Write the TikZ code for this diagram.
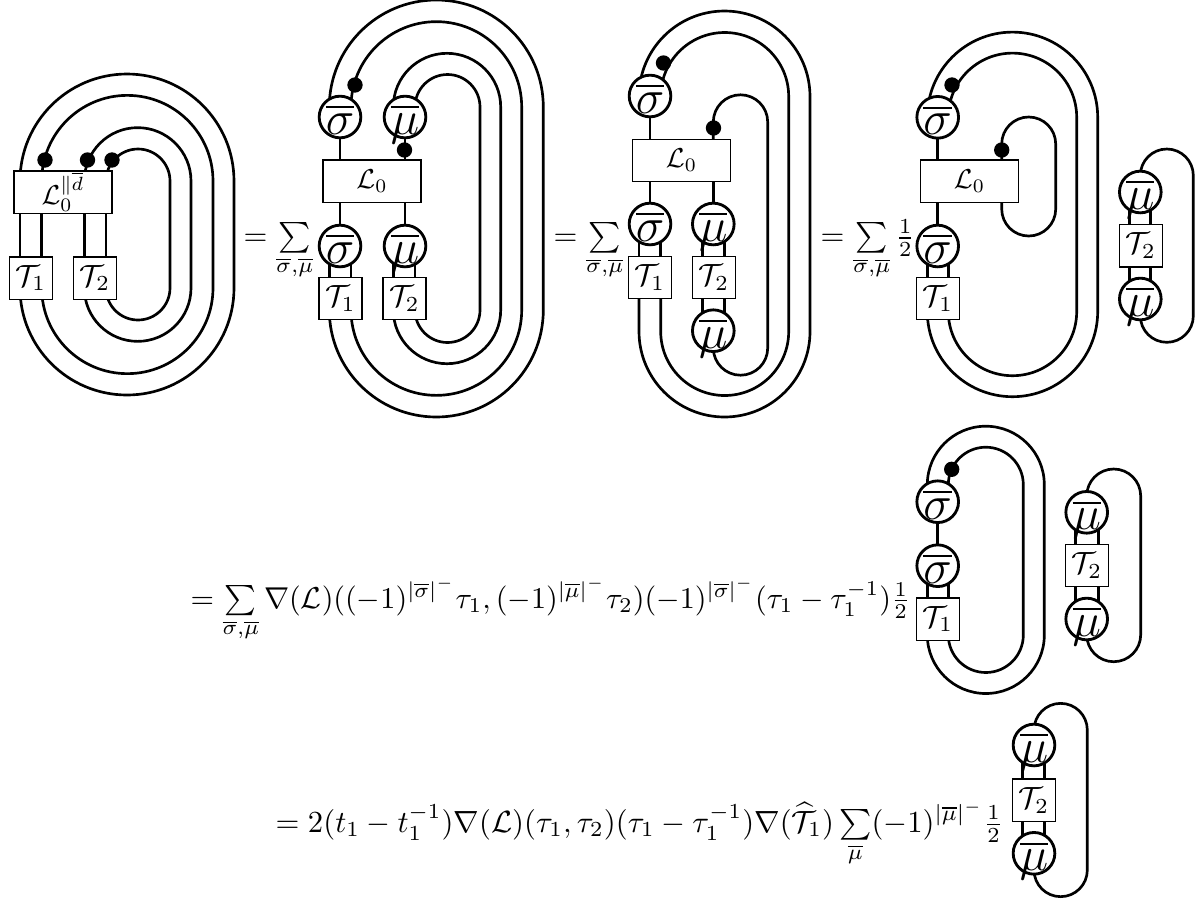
\documentclass[tikz,border=0pt]{standalone}
\usepackage{amsmath}
\usepackage{graphicx}
\usetikzlibrary{backgrounds}
\pgfdeclarelayer{strands}
\pgfsetlayers{background,strands,main}
\tikzset{
  strand/.style={line width=0.8pt,line cap=round},
  boxnode/.style={draw,line width=0.4pt,fill=white,inner sep=0pt,minimum width=#1*0.3pt,minimum height=12.7pt},
  boxnode/.default=43,
  ring/.style={circle,draw,line width=0.85pt,fill=white,inner sep=0pt,minimum size=12.5pt},
  knob/.style={circle,fill=black,inner sep=0pt,minimum size=4.6pt},
  eqn/.style={anchor=base west,inner sep=0pt}
}
\newcommand\ringtext[1]{\smash{\raisebox{-5.3pt}{\makebox[0pt]{\Large$\overline{#1}$}}}}
\newcommand\eqtext[2][0.92]{\scalebox{#1}{$#2$}}
\newcommand\boxT[1]{\scalebox{0.92}{$\mathcal T_{#1}$}}
\newcommand\boxL[1]{\scalebox{0.82}{$\mathcal L_0#1$}}
% start, left x, top arc centre y, right x, bottom arc centre y, end
\newcommand\pill[6]{\draw[strand] (#1 -| #2,0) -- (#2,#3) arc[start angle=180,end angle=0,radius={(#4-#2)*0.15pt}] -- (#4,#5) arc[start angle=0,end angle=-180,radius={(#4-#2)*0.15pt}] -- (#6 -| #2,0);}
\newcommand\link[3]{\draw[strand] (#1 -| #3,0) -- (#2 -| #3,0);}
\begin{document}
\begin{tikzpicture}[x=0.3pt,y=-0.3pt]
\useasboundingbox (0,0) rectangle (1198,905);
% ---------- diagram 1
\node[boxnode=98] (aL) at (63,192) {\boxL{^{\|\overline d}}};
\node[boxnode] (aT) at (31,278) {\boxT1};
\node[boxnode] (aU) at (95,278) {\boxT2};
\node[knob] (ad1) at (45,160) {};
\node[knob] (ad2) at (87.5,160) {};
\node[knob] (ad3) at (112,160) {};
\begin{pgfonlayer}{strands}
\pill{aL.center}{20}{181}{234}{288}{aT.center}
\pill{aL.center}{41.7}{181}{213}{288}{aT.center}
\pill{aL.center}{84.3}{181}{191}{288}{aU.center}
\pill{aL.center}{106}{181}{170}{288}{aU.center}
\link{aL.south}{aT.north}{20}
\link{aL.south}{aT.north}{41.7}
\link{aL.south}{aU.north}{84.3}
\link{aL.south}{aU.north}{106}
\end{pgfonlayer}
\node[eqn] (ae) at (243,245) {\eqtext{=\sum\limits_{\overline\sigma,\overline\mu}}};
% ---------- diagram 2
\node[boxnode=98] (bL) at (372,181) {\boxL{}};
\node[ring] (bs1) at (340,117) {\ringtext\sigma};
\node[ring] (bm1) at (405,117) {\ringtext\mu};
\node[ring] (bs2) at (340,246) {\ringtext\sigma};
\node[ring] (bm2) at (405,246) {\ringtext\mu};
\node[boxnode] (bT) at (340.5,298.5) {\boxT1};
\node[boxnode] (bU) at (404.5,298.5) {\boxT2};
\node[knob] (bd1) at (355,85) {};
\node[knob] (bd2) at (404.5,150) {};
\begin{pgfonlayer}{strands}
\pill{bs1.center}{329.3}{107}{543.3}{310}{bT.center}
\pill{bs1.center}{351}{107}{521.7}{310}{bT.center}
\pill{bm1.center}{393.3}{107}{500.7}{310}{bU.center}
\pill{bm1.center}{415}{107}{480}{310}{bU.center}
\link{bs1.center}{bL.north}{340}
\link{bm1.center}{bL.north}{405}
\link{bL.south}{bs2.center}{340}
\link{bL.south}{bm2.center}{405}
\link{bs2.center}{bT.north}{329.3}
\link{bs2.center}{bT.north}{351}
\link{bm2.center}{bU.north}{393.3}
\link{bm2.center}{bU.north}{415}
\end{pgfonlayer}
\node[eqn] (be) at (553,245.7) {\eqtext{=\sum\limits_{\overline\sigma,\overline\mu}}};
% ---------- diagram 3
\node[boxnode=98] (cL) at (681.5,160.5) {\boxL{}};
\node[ring] (cs1) at (650,96) {\ringtext\sigma};
\node[ring] (cs2) at (650,224) {\ringtext\sigma};
\node[ring] (cm2) at (713.3,224) {\ringtext\mu};
\node[ring] (cm3) at (713.3,330.7) {\ringtext\mu};
\node[boxnode] (cT) at (650,277.5) {\boxT1};
\node[boxnode] (cU) at (714,277.5) {\boxT2};
\node[knob] (cd1) at (663.5,63) {};
\node[knob] (cd2) at (713.5,128) {};
\begin{pgfonlayer}{strands}
\pill{cs1.center}{639}{96.5}{810}{331.5}{cT.center}
\pill{cs1.center}{660.7}{96.5}{788.7}{331.5}{cT.center}
\pill{cL.center}{713.3}{122}{767.7}{348}{cm3.center}
\link{cs1.center}{cL.north}{650}
\link{cL.south}{cs2.center}{650}
\link{cL.south}{cm2.center}{713.3}
\link{cs2.center}{cT.north}{639}
\link{cs2.center}{cT.north}{660.7}
\link{cm2.center}{cU.north}{702.7}
\link{cm2.center}{cU.north}{724.3}
\link{cU.south}{cm3.center}{702.7}
\link{cU.south}{cm3.center}{724.3}
\end{pgfonlayer}
\node[eqn] (ce) at (820,245.7) {\eqtext{=\sum\limits_{\overline\sigma,\overline\mu}\frac12}};
% ---------- diagram 4
\node[boxnode=98] (dL) at (969.5,181.3) {\boxL{}};
\node[ring] (ds1) at (937.7,117.3) {\ringtext\sigma};
\node[ring] (ds2) at (937.7,246) {\ringtext\sigma};
\node[boxnode] (dT) at (938,298.5) {\boxT1};
\node[knob] (dd1) at (952,85) {};
\node[knob] (dd2) at (1001.7,150) {};
\node[ring] (dm1) at (1140.3,192) {\ringtext\mu};
\node[boxnode] (dU) at (1140.7,245.8) {\boxT2};
\node[ring] (dm2) at (1140.3,299) {\ringtext\mu};
\begin{pgfonlayer}{strands}
\pill{ds1.center}{927.3}{117.3}{1097.7}{311.5}{dT.center}
\pill{ds1.center}{948.3}{117.3}{1076.7}{311.5}{dT.center}
\pill{dL.center}{1001.7}{144}{1055.7}{209}{dL.center}
\pill{dm1.center}{1140.3}{175.5}{1193.3}{315.8}{dm2.center}
\link{ds1.center}{dL.north}{937.7}
\link{dL.south}{ds2.center}{937.7}
\link{ds2.center}{dT.north}{927.3}
\link{ds2.center}{dT.north}{948.3}
\link{dm1.center}{dU.north}{1129.3}
\link{dm1.center}{dU.north}{1150.7}
\link{dU.south}{dm2.center}{1129.3}
\link{dU.south}{dm2.center}{1150.7}
\end{pgfonlayer}
% ---------- row 2
\node[eqn] (ee) at (190,608) {\eqtext[0.905]{=\sum\limits_{\overline\sigma,\overline\mu}\nabla(\mathcal L)((-1)^{|\overline\sigma|^-}\tau_1,(-1)^{|\overline\mu|^-}\tau_2)(-1)^{|\overline\sigma|^-}(\tau_1-\tau_1^{-1})\frac12}};
\node[ring] (es1) at (937.7,501.7) {\ringtext\sigma};
\node[ring] (es2) at (937.7,565.7) {\ringtext\sigma};
\node[boxnode] (eT) at (938,619) {\boxT1};
\node[knob] (ed1) at (951.7,469.3) {};
\node[ring] (em1) at (1086.7,512.3) {\ringtext\mu};
\node[boxnode] (eU) at (1087,565.5) {\boxT2};
\node[ring] (em2) at (1086.7,619) {\ringtext\mu};
\begin{pgfonlayer}{strands}
\pill{es1.center}{927.3}{484.7}{1044.3}{635}{eT.center}
\pill{es1.center}{948.3}{484.7}{1023.3}{635}{eT.center}
\pill{em1.center}{1086.7}{496}{1140.7}{634.7}{em2.center}
\link{es1.center}{es2.center}{937.7}
\link{es2.center}{eT.north}{927.3}
\link{es2.center}{eT.north}{948.3}
\link{em1.center}{eU.north}{1075.7}
\link{em1.center}{eU.north}{1098.3}
\link{eU.south}{em2.center}{1075.7}
\link{eU.south}{em2.center}{1098.3}
\end{pgfonlayer}
% ---------- row 3
\node[eqn] (fe) at (275,832) {\eqtext{=2(t_1-t_1^{-1})\nabla(\mathcal L)(\tau_1,\tau_2)(\tau_1-\tau_1^{-1})\nabla(\widehat{\mathcal T}_1)\sum\limits_{\overline\mu}(-1)^{|\overline\mu|^-}\frac12}};
\node[ring] (fm1) at (1034,745) {\ringtext\mu};
\node[boxnode] (fU) at (1033.8,800.3) {\boxT2};
\node[ring] (fm2) at (1034,853.3) {\ringtext\mu};
\begin{pgfonlayer}{strands}
\pill{fm1.center}{1034}{730}{1087.3}{870}{fm2.center}
\link{fm1.center}{fU.north}{1022.7}
\link{fm1.center}{fU.north}{1044.3}
\link{fU.south}{fm2.center}{1022.7}
\link{fU.south}{fm2.center}{1044.3}
\end{pgfonlayer}
\end{tikzpicture}
\end{document}
